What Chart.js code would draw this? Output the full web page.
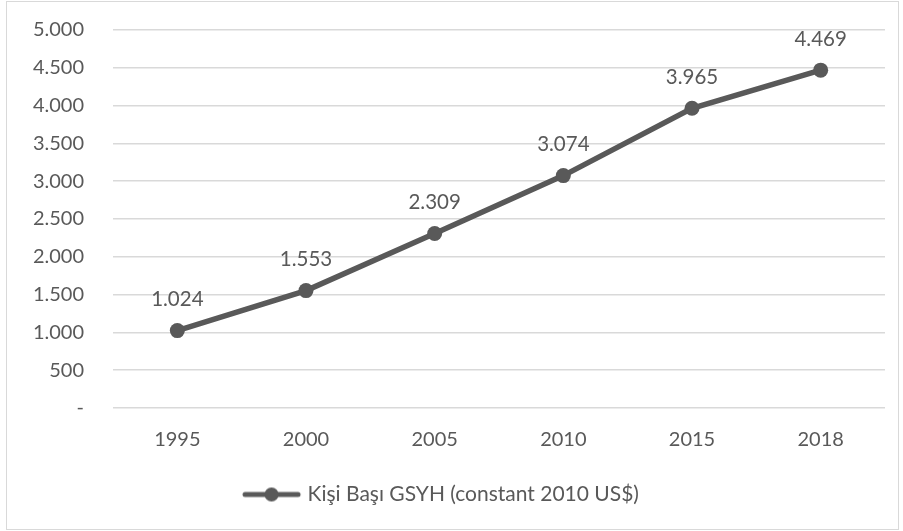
<!DOCTYPE html>
<html>
<head>
<meta charset="utf-8">
<script src="https://cdn.jsdelivr.net/npm/chart.js@4"></script>
<style>
  body { margin: 0; background: #fff; }
  #frame { position: absolute; left: 6px; top: 1px; width: 891px; height: 527px; border: 1px solid #d9d9d9; }
  #wrap { position: absolute; left: 0; top: 0; width: 903px; height: 531px; }
</style>
</head>
<body>
<div id="frame"></div>
<div id="wrap"><canvas id="lineChart" width="903" height="531"></canvas></div>
<script>
// data
var years = ['1995', '2000', '2005', '2010', '2015', '2018'];
var gdpPerCapita = [1024, 1553, 2309, 3074, 3965, 4469];
var seriesName = 'Kişi Başı GSYH (constant 2010 US$)';

var grey = '#595959';
var fontName = 'Lato';

function fmt(v) {
    if (v === 0) return '-';
    return String(v).replace(/\B(?=(\d{3})+(?!\d))/g, '.');
}

// legend marker: line with a dot in the middle
var marker = document.createElement('canvas');
marker.width = 63;
marker.height = 16;
var m = marker.getContext('2d');
m.strokeStyle = grey;
m.lineWidth = 5;
m.lineCap = 'round';
m.beginPath();
m.moveTo(5, 8);
m.lineTo(58, 8);
m.stroke();
m.fillStyle = grey;
m.beginPath();
m.arc(31.5, 8, 7, 0, Math.PI * 2);
m.fill();

// values above the points
var valueLabels = {
    id: 'valueLabels',
    afterDatasetsDraw: function (chart) {
        var ctx = chart.ctx;
        var meta = chart.getDatasetMeta(0);
        ctx.save();
        ctx.font = '20.5px ' + fontName;
        ctx.fillStyle = grey;
        ctx.textAlign = 'center';
        ctx.textBaseline = 'middle';
        meta.data.forEach(function (pt, i) {
            ctx.fillText(fmt(chart.data.datasets[0].data[i]), pt.x, pt.y - 31);
        });
        ctx.restore();
    }
};

var ctx = document.getElementById('lineChart').getContext('2d');
var myChart = new Chart(ctx, {
    type: 'line',
    data: {
        labels: years,
        datasets: [{
            label: seriesName,
            data: gdpPerCapita,
            borderColor: grey,
            backgroundColor: grey,
            borderWidth: 5.5,
            pointRadius: 7.5,
            pointHoverRadius: 7.5,
            pointBackgroundColor: grey,
            pointBorderWidth: 0,
            tension: 0
        }]
    },
    options: {
        responsive: false,
        animation: false,
        layout: { padding: { top: 30, right: 18, left: 0, bottom: 16 } },
        plugins: {
            tooltip: { enabled: false },
            legend: {
                position: 'bottom',
                labels: {
                    usePointStyle: true,
                    pointStyle: marker,
                    pointStyleWidth: 51,
                    color: grey,
                    font: { family: fontName, size: 21 },
                    padding: 10
                }
            }
        },
        scales: {
            x: {
                offset: true,
                grid: { display: false },
                border: { display: false },
                ticks: { color: grey, font: { family: fontName, size: 20 }, padding: 12, maxRotation: 0 },
                afterFit: function (scale) { scale.height = 66; }
            },
            y: {
                min: 0,
                max: 5000,
                ticks: {
                    stepSize: 500,
                    color: grey,
                    font: { family: fontName, size: 20 },
                    padding: 0,
                    callback: function (v) { return fmt(v); }
                },
                // invisible tick marks keep the labels away from the plot
                grid: { color: '#d9d9d9', lineWidth: 1.5, drawTicks: true, tickLength: 29, tickColor: 'rgba(0,0,0,0)' },
                border: { display: false },
                afterFit: function (scale) { scale.width = 113; }
            }
        }
    },
    plugins: [valueLabels]
});
</script>
</body>
</html>
